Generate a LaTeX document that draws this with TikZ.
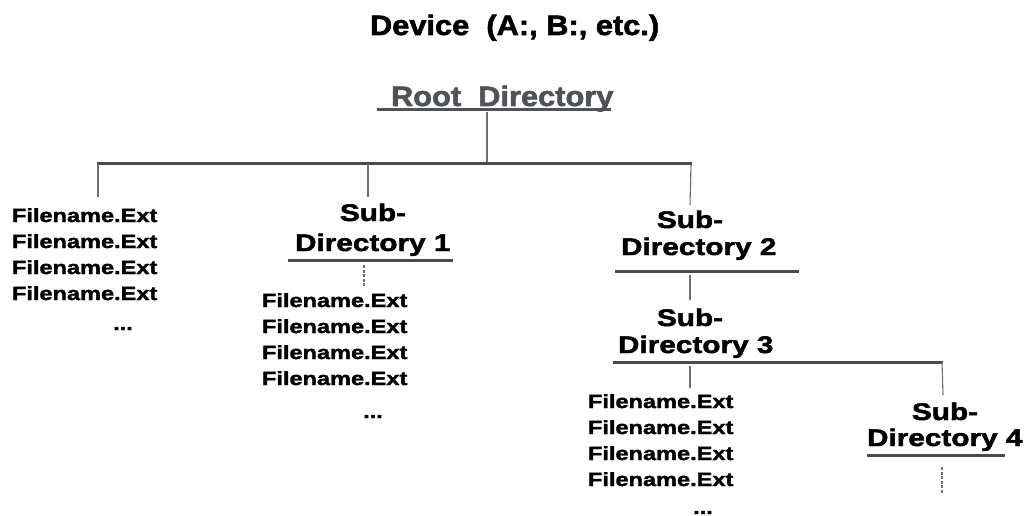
\documentclass[tikz,border=0pt]{standalone}
\usepackage{fontspec}
\setmainfont{Liberation Sans}
\newfontfamily\wideA{Liberation Sans}[FakeStretch=1.24,FakeBold=2]
\newfontfamily\wideB{Liberation Sans}[FakeStretch=1.1,FakeBold=2]
\definecolor{linegray}{HTML}{4A4A4A}
\definecolor{rootgray}{HTML}{4F5258}
\tikzset{
  txt/.style={inner sep=0pt, outer sep=0pt},
  fname/.style={txt, anchor=base west, font=\wideA\bfseries\fontsize{19}{19}\selectfont},
  fdots/.style={txt, anchor=base, font=\wideA\bfseries\fontsize{19}{19}\selectfont},
  dirname/.style={txt, anchor=base west, font=\wideA\bfseries\fontsize{24}{24}\selectfont},
  subname/.style={txt, anchor=base, font=\wideA\bfseries\fontsize{24}{24}\selectfont},
  hbar/.style={line width=3pt, draw=linegray},
  uline/.style={line width=3pt, draw=linegray},
  vline/.style={line width=1.1pt, draw=linegray!80},
}
\begin{document}
\begin{tikzpicture}[x=1pt,y=-1pt]
\useasboundingbox[fill=white] (0,0) rectangle (1031,516);

% title
\node[txt, anchor=base west, font=\wideB\bfseries\fontsize{28}{28}\selectfont] (title) at (370,35) {Device\ \ (A:, B:, etc.)};

% root
\node[txt, anchor=base west, text=rootgray, font=\wideB\bfseries\fontsize{28}{28}\selectfont] (root) at (391,106) {Root\ \ Directory};
\draw[uline, draw=rootgray] (377,110) -- (611,110);

% main bar
\coordinate (rootdrop) at (487,112);
\coordinate (barroot) at (487,164);
\coordinate (barL) at (97,164);
\coordinate (barM) at (368,164);
\coordinate (barR) at (692,164);
\draw[vline] (rootdrop) -- (barroot);
\draw[hbar] (barL) -- (barR);

% left file list
\node[fname] (fa1) at (12,222) {Filename.Ext};
\node[fname] (fa2) at (12,248) {Filename.Ext};
\node[fname] (fa3) at (12,274) {Filename.Ext};
\node[fname] (fa4) at (12,300) {Filename.Ext};
\node[fdots] (fadots) at (123,330) {...};
\coordinate (fatop) at (98,197);
\draw[vline] ([xshift=1pt]barL) -- (fatop);

% Sub-Directory 1
\node[subname] (sd1a) at (373,221) {Sub-};
\node[dirname] (sd1) at (295,251) {Directory 1};
\draw[uline] (288,260) -- (453,260);
\coordinate (sd1top) at (368,197);
\draw[vline] (barM) -- (sd1top);
\coordinate (sd1bot) at (364,265);
\coordinate (fbtop) at (364,287);
\draw[vline, dash pattern=on 3pt off 1.5pt] (sd1bot) -- (fbtop);

% middle file list
\node[fname] (fb1) at (262,307) {Filename.Ext};
\node[fname] (fb2) at (262,333) {Filename.Ext};
\node[fname] (fb3) at (262,359) {Filename.Ext};
\node[fname] (fb4) at (262,385) {Filename.Ext};
\node[fdots] (fbdots) at (373,418) {...};

% Sub-Directory 2
\node[subname] (sd2a) at (690,228) {Sub-};
\node[dirname] (sd2) at (621,255) {Directory 2};
\draw[uline] (615,271) -- (799,271);
\coordinate (sd2top) at (690,205);
\draw[vline] ([xshift=-1pt]barR) -- (sd2top);

% Sub-Directory 3
\coordinate (sd2bot) at (690,275);
\coordinate (sd3top) at (690,300);
\draw[vline] (sd2bot) -- (sd3top);
\node[subname] (sd3a) at (690,326) {Sub-};
\node[dirname] (sd3) at (618,353) {Directory 3};
\coordinate (sd3L) at (613,362);
\coordinate (sd3R) at (943,362);
\draw[hbar] (sd3L) -- (sd3R);

% right file list
\coordinate (sd3bot) at (690,366);
\coordinate (fctop) at (690,388);
\draw[vline] (sd3bot) -- (fctop);
\node[fname] (fc1) at (588,408) {Filename.Ext};
\node[fname] (fc2) at (588,434) {Filename.Ext};
\node[fname] (fc3) at (588,460) {Filename.Ext};
\node[fname] (fc4) at (588,486) {Filename.Ext};
\node[fdots] (fcdots) at (703,514) {...};

% Sub-Directory 4
\coordinate (sd4top) at (943,395);
\draw[vline] ([xshift=-1pt]sd3R) -- (sd4top);
\node[subname] (sd4a) at (945,420) {Sub-};
\node[dirname] (sd4) at (867,446) {Directory 4};
\draw[uline] (867,455) -- (1005,455);
\coordinate (sd4bot) at (942,467);
\coordinate (sd4end) at (942,493);
\draw[vline, dash pattern=on 3pt off 1.5pt] (sd4bot) -- (sd4end);
\end{tikzpicture}
\end{document}
